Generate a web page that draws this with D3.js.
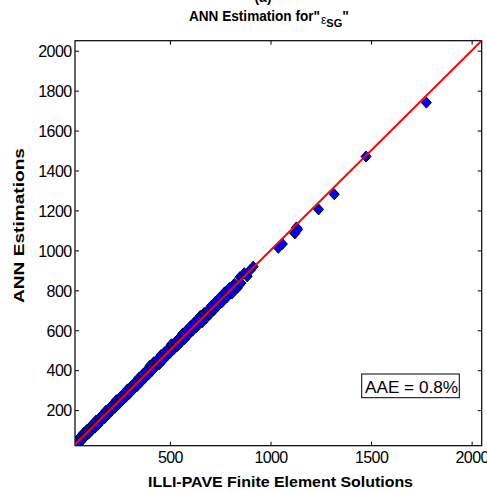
<!DOCTYPE html>
<html><head><meta charset="utf-8">
<script src="https://cdn.jsdelivr.net/npm/d3@7"></script>
<style>body{margin:0;background:#fff}svg{display:block}text{font-family:"Liberation Sans",Arial,sans-serif}</style>
</head><body>
<script>
const illiPave = [28,33,38,45,52,58,65,72,80,88,95,103,110,118,126,133,141,150,158,166,175,183,192,200,208,217,226,234,243,252,260,270,280,289,298,308,318,327,336,346,355,365,374,383,393,402,410,420,428,437,447,456,465,474,483,492,500,508,518,527,536,545,555,564,573,583,592,602,612,622,632,642,651,660,670,679,688,698,708,718,728,738,748,760,772,784,796,808,820,835,848,853,870,884,898,914,1039,1059,1121,1129,1135,1239,1317,1475,1775];
const annEst   = [24,40,30,55,44,70,52,86,70,102,82,115,98,130,112,148,126,160,146,178,160,198,178,212,196,230,212,250,228,264,246,282,265,304,282,320,304,340,320,362,340,380,360,398,378,424,396,440,416,452,430,476,450,490,470,508,486,530,504,540,520,560,540,584,556,600,578,620,598,640,616,658,672,640,686,660,700,680,724,700,744,722,764,742,790,766,812,784,832,812,866,836,886,870,900,918,1013,1032,1085,1115,1105,1205,1281,1470,1740];
const xTicks = [500,1000,1500,2000];
const yTicks = [200,400,600,800,1000,1200,1400,1600,1800,2000];
const xDomain = [28,2050];
const yDomain = [22,2050];
const aaeLabel = "AAE = 0.8%";

const W=487,H=492;
const L=75,R=481.7,T=40.7,B=445.7;
const svg=d3.select("body").append("svg").attr("width",W).attr("height",H);
const x=d3.scaleLinear().domain(xDomain).range([L,R]);
const y=d3.scaleLinear().domain(yDomain).range([B,T]);
const fmt=d3.format("d");

svg.append("clipPath").attr("id","c").append("rect").attr("x",L).attr("y",T).attr("width",R-L).attr("height",B-T);

// title
svg.append("text").attr("x",263).attr("y",2).attr("text-anchor","middle").attr("font-weight","bold").attr("font-size",14).text("(a)");
const t=svg.append("text").attr("x",189).attr("y",21).attr("font-weight","bold").attr("font-size",14);
t.append("tspan").text('ANN Estimation for"').attr("textLength",131).attr("lengthAdjust","spacingAndGlyphs");
t.append("tspan").attr("dx",1).attr("dy",3).attr("font-size",12).attr("font-weight","normal").text("\u03b5");
t.append("tspan").attr("dy",3).attr("font-size",11).text("SG");
t.append("tspan").attr("dy",-6).text('"');

// axes
const gx=svg.append("g").attr("transform",`translate(0,${B})`)
  .call(d3.axisBottom(x).tickValues(xTicks).tickFormat(fmt).tickSizeInner(-4).tickSizeOuter(0).tickPadding(0));
gx.selectAll("text").attr("y",17.6).attr("dy",0).attr("font-size",16).attr("letter-spacing","-0.6px").attr("font-family","Liberation Sans, Arial");
const gy=svg.append("g").attr("transform",`translate(${L},0)`)
  .call(d3.axisLeft(y).tickValues(yTicks).tickFormat(fmt).tickSizeInner(-4).tickSizeOuter(0).tickPadding(0));
gy.selectAll("text").attr("x",-3.5).attr("dy","0.36em").attr("font-size",16).attr("letter-spacing","-0.6px").attr("font-family","Liberation Sans, Arial");
svg.append("g").attr("transform",`translate(0,${T})`)
  .call(d3.axisTop(x).tickValues(xTicks).tickSizeInner(-4).tickSizeOuter(0).tickFormat(""));
svg.append("g").attr("transform",`translate(${R},0)`)
  .call(d3.axisRight(y).tickValues(yTicks).tickSizeInner(-4).tickSizeOuter(0).tickFormat(""));
svg.selectAll(".domain").remove();
svg.selectAll(".tick line").attr("stroke","#000");
svg.selectAll(".tick text").attr("fill","#000");
svg.append("rect").attr("x",L).attr("y",T).attr("width",R-L).attr("height",B-T).attr("fill","none").attr("stroke","#000").attr("stroke-width",1.2);

// labels
svg.append("text").attr("transform",`translate(24,225.5) rotate(-90)`).attr("text-anchor","middle").attr("font-weight","bold").attr("font-size",15)
  .attr("textLength",155).attr("lengthAdjust","spacingAndGlyphs").text("ANN Estimations");
svg.append("text").attr("x",280.5).attr("y",487).attr("text-anchor","middle").attr("font-weight","bold").attr("font-size",15)
  .attr("textLength",265).attr("lengthAdjust","spacingAndGlyphs").text("ILLI-PAVE Finite Element Solutions");

// points
const pts=illiPave.map((v,i)=>[v,annEst[i]]);
const diamond="M0,-5.5L5,0L0,5.5L-5,0Z";
svg.append("g").attr("clip-path","url(#c)").selectAll("path").data(pts).join("path")
  .attr("d",diamond).attr("transform",d=>`translate(${x(d[0])},${y(d[1])})`)
  .attr("fill","#0000ff").attr("stroke","#000").attr("stroke-width",1);

// 1:1 line
svg.append("line").attr("clip-path","url(#c)")
  .attr("x1",x(xDomain[0])).attr("y1",y(xDomain[0])).attr("x2",x(2050)).attr("y2",y(2050))
  .attr("stroke","#ff0000").attr("stroke-width",2);

// AAE box
svg.append("rect").attr("x",361.7).attr("y",374).attr("width",97.6).attr("height",23.7).attr("fill","#fff").attr("stroke","#000").attr("stroke-width",1);
svg.append("text").attr("x",365).attr("y",392.5).attr("font-size",17).attr("textLength",93).attr("lengthAdjust","spacingAndGlyphs").text(aaeLabel);
</script>
</body></html>
